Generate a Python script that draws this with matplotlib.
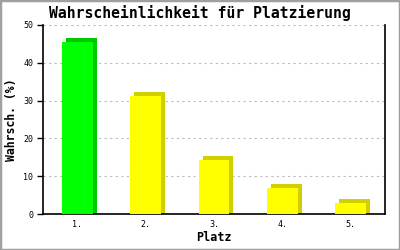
import matplotlib.pyplot as plt
from matplotlib.patches import Rectangle

places = ['1.', '2.', '3.', '4.', '5.']
chances = [45.4, 31.1, 14.4, 6.8, 3.0]
front_colors = ['#00ff00', '#ffff00', '#ffff00', '#ffff00', '#ffff00']
side_colors = ['#00c800', '#d0d000', '#d0d000', '#d0d000', '#d0d000']

mono = 'DejaVu Sans Mono'

fig = plt.figure(figsize=(4, 2.5), dpi=100)
fig.patches.append(Rectangle((0, 0), 1, 1, transform=fig.transFigure,
                             fill=False, edgecolor='#a0a0a0', linewidth=2.5))
ax = fig.add_axes([0.1075, 0.144, 0.855, 0.756])

x = list(range(len(places)))
width = 0.45
# fake 3d depth: about 4 px right and up
dx = 4 / 68.4
dy = 4 / 3.78
ax.bar([i + dx for i in x], [v + dy for v in chances], width=width,
       color=side_colors, zorder=2)
ax.bar(x, chances, width=width, color=front_colors, zorder=3)

ax.set_xlim(-0.5, len(places) - 0.5)
ax.set_ylim(0, 50)
ax.set_yticks([0, 10, 20, 30, 40, 50])
ax.set_xticks(x)
ax.set_xticklabels(places)
ax.yaxis.grid(True, linestyle=(0, (2, 3)), color='#bbbbbb', linewidth=0.8, zorder=0)
ax.set_axisbelow(True)

ax.spines['top'].set_visible(False)
for s in ['left', 'bottom', 'right']:
    ax.spines[s].set_linewidth(1.2)
ax.tick_params(axis='x', length=0, pad=4)
ax.tick_params(axis='y', length=4, width=1, pad=3)
for lab in ax.get_xticklabels() + ax.get_yticklabels():
    lab.set_fontfamily(mono)
    lab.set_fontsize(6)

# title is centred on the whole picture, not on the axes
fig.text(0.5, 0.948, 'Wahrscheinlichkeit für Platzierung', fontfamily=mono,
         fontsize=10.6, fontweight='bold', ha='center', va='center')
ax.set_xlabel('Platz', fontfamily=mono, fontsize=8.5, fontweight='bold', labelpad=2)
ax.set_ylabel('Wahrsch. (%)', fontfamily=mono, fontsize=8.3, fontweight='bold', labelpad=4)

fig.savefig('out.png', dpi=100)
